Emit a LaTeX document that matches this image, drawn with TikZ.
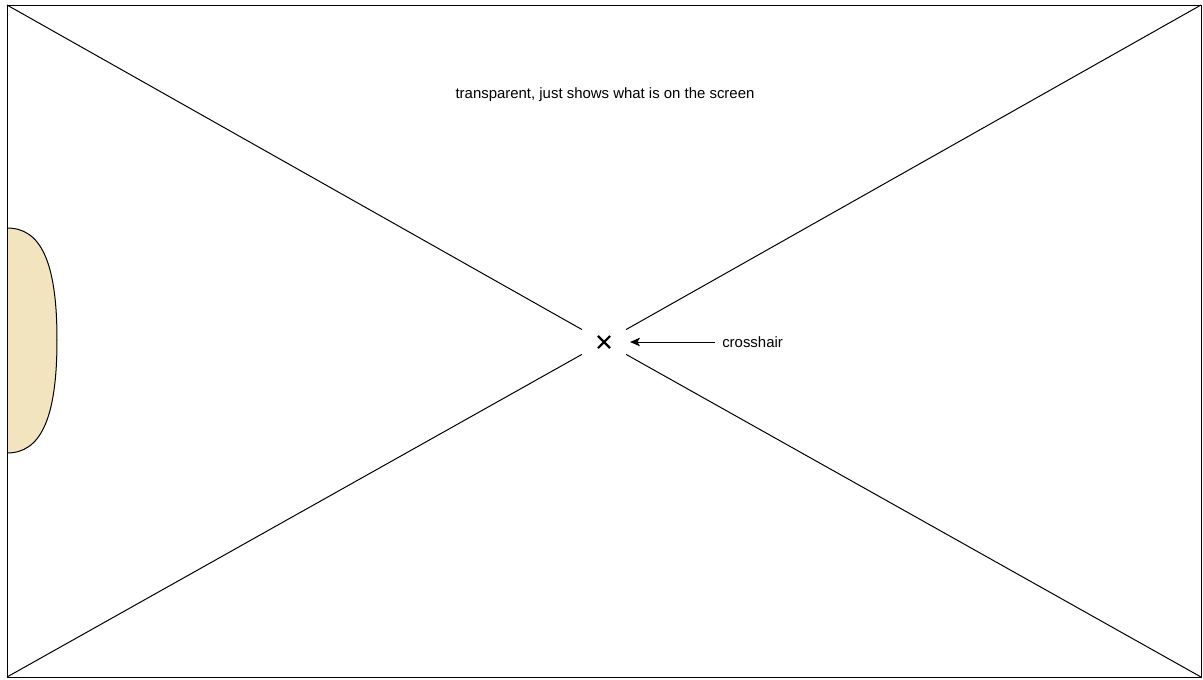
\documentclass[tikz,border=0pt]{standalone}
\usepackage{fontspec}
\setmainfont{Liberation Sans}
\usetikzlibrary{calc,arrows.meta,shapes.misc}
\definecolor{handtan}{HTML}{F2E4BF}
\tikzset{
  frameline/.style={draw=black, line width=0.75pt},
  label/.style={font=\fontsize{11.2}{13}\selectfont, inner sep=0pt},
  crosshair/.style={cross out, draw=black, line width=1.6pt, minimum size=7.5pt, inner sep=0pt},
  pointer/.style={line width=0.75pt, -{Stealth[length=7.5pt,width=6.5pt,inset=2pt]}, shorten >=15pt}
}
\begin{document}
\begin{tikzpicture}[x=0.75pt, y=-0.75pt]
  \useasboundingbox (0,0) rectangle (1203,679);
  \coordinate (tl) at (7,5);
  \coordinate (tr) at (1201,5);
  \coordinate (br) at (1201,677);
  \coordinate (bl) at (7,677);
  \node[crosshair] (ch) at (604,342) {};
  \node[label] (note) at (605,95) {transparent, just shows what is on the screen};
  \node[label, anchor=west] (chlabel) at (722,342) {crosshair};
  \draw[frameline, fill=handtan] (7,228) .. controls (40,228) and (57,260) .. (57,340)
    .. controls (57,420) and (40,453) .. (7,453);
  \draw[frameline] (tl) rectangle (br);
  \draw[frameline] (tl) -- ($(ch)!19pt!(tl)$);
  \draw[frameline] (tr) -- ($(ch)!19pt!(tr)$);
  \draw[frameline] (bl) -- ($(ch)!19pt!(bl)$);
  \draw[frameline] (br) -- ($(ch)!19pt!(br)$);
  \draw[pointer] ($(chlabel.west)+(-7,0)$) -- (ch.east);
\end{tikzpicture}
\end{document}
